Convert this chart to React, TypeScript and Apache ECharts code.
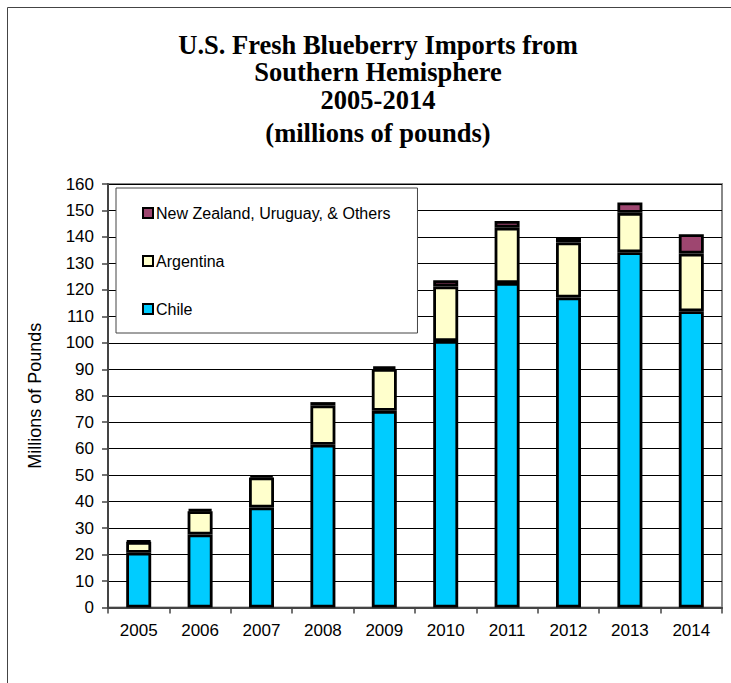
import React, { useEffect, useRef } from "react";
import * as echarts from "echarts";

const years = ["2005", "2006", "2007", "2008", "2009", "2010", "2011", "2012", "2013", "2014"];
const chile = [20.7, 27.6, 37.8, 61.5, 74.3, 100.7, 122.6, 117.1, 134.2, 111.9];
const argentina = [4.1, 8.8, 11.3, 14.8, 15.8, 20.6, 20.9, 20.8, 14.9, 21.8];
const others = [0.4, 0.7, 0.9, 1.3, 1.0, 2.3, 2.5, 1.8, 3.9, 7.3];
const titleLines = [
  "U.S. Fresh Blueberry Imports from",
  "Southern Hemisphere",
  "2005-2014",
  "(millions of pounds)",
];
const titleY = [45, 72, 100, 133];

const SANS = '"Liberation Sans", Arial, sans-serif';
const SERIF = '"Liberation Serif", "Times New Roman", serif';

export default function App() {
  const ref = useRef<HTMLDivElement>(null);
  useEffect(() => {
    if (!ref.current) return;
    const chart = echarts.init(ref.current, null, { renderer: "svg" });
    const barStyle = (color: string) => ({ color, borderColor: "#000", borderWidth: 2.8 });
    chart.setOption({
      animation: false,
      backgroundColor: "#fff",
      graphic: [
        {
          type: "rect",
          shape: { x: 7.5, y: 7.5, width: 740, height: 700 },
          style: { fill: "none", stroke: "#444", lineWidth: 1 },
          silent: true,
        },
        ...titleLines.map((t, i) => ({
          type: "text",
          x: 378,
          y: titleY[i],
          style: {
            text: t,
            fontFamily: SERIF,
            fontWeight: "bold",
            fontSize: 26.5,
            fill: "#000",
            align: "center",
            verticalAlign: "middle",
          },
        })),
      ],
      grid: { left: 108, right: 9, top: 184, bottom: 75.5, show: true, borderColor: "#888", borderWidth: 2, backgroundColor: "#fff" },
      legend: {
        orient: "vertical",
        left: 116,
        top: 188,
        data: ["New Zealand, Uruguay, & Others", "Argentina", "Chile"],
        backgroundColor: "#fff",
        borderColor: "#444",
        borderWidth: 1,
        padding: [17, 27, 16, 26],
        itemGap: 32,
        itemWidth: 10,
        itemHeight: 10,
        icon: "rect",
        itemStyle: { borderColor: "#000", borderWidth: 2 },
        textStyle: { fontFamily: SANS, fontSize: 16, color: "#000", padding: [0, 0, 0, -2] },
        z: 10,
      },
      xAxis: {
        type: "category",
        data: years,
        axisLine: { lineStyle: { color: "#444", width: 2 } },
        axisTick: { show: true, alignWithLabel: false, length: 6, lineStyle: { color: "#444", width: 1.5 } },
        axisLabel: { fontFamily: SANS, fontSize: 17, color: "#000", margin: 14 },
        splitLine: { show: false },
      },
      yAxis: {
        type: "value",
        min: 0,
        max: 160,
        interval: 10,
        name: "Millions of Pounds",
        nameLocation: "middle",
        nameGap: 64,
        nameRotate: 90,
        nameTextStyle: { fontFamily: SANS, fontSize: 18, color: "#000" },
        axisLine: { show: true, lineStyle: { color: "#444", width: 2 } },
        axisTick: { show: true, length: 6, lineStyle: { color: "#444", width: 1.5 } },
        axisLabel: { fontFamily: SANS, fontSize: 17, color: "#000", margin: 14 },
        splitLine: { show: true, lineStyle: { color: "#000", width: 1 } },
      },
      series: [
        { name: "Chile", type: "bar", stack: "t", data: chile, barWidth: 25, itemStyle: barStyle("#00CCFF") },
        { name: "Argentina", type: "bar", stack: "t", data: argentina, barWidth: 25, itemStyle: barStyle("#FFFFCC") },
        { name: "New Zealand, Uruguay, & Others", type: "bar", stack: "t", data: others, barWidth: 25, itemStyle: barStyle("#9E4670") },
      ],
    });
    return () => chart.dispose();
  }, []);
  return <div ref={ref} style={{ position: "fixed", left: 0, top: 0, width: 731, height: 683 }} />;
}
